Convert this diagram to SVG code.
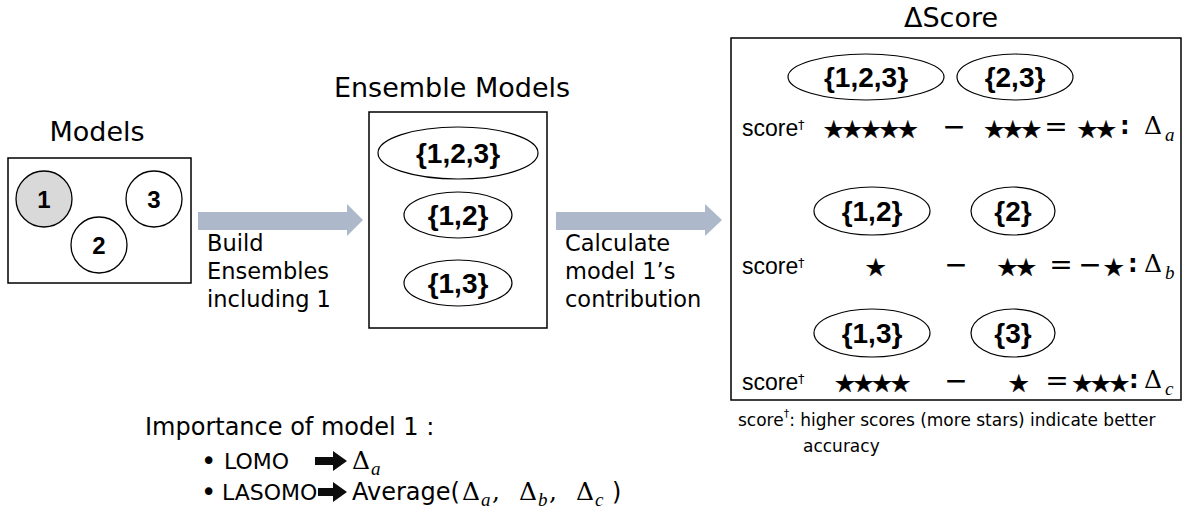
<svg xmlns="http://www.w3.org/2000/svg" width="1186" height="519" viewBox="0 0 1186 519">
<style>
.t{font-family:"DejaVu Sans",sans-serif;fill:#000}
.title{font-family:"DejaVu Sans",sans-serif;font-size:27px;text-anchor:middle;fill:#000}
.body{font-family:"DejaVu Sans",sans-serif;font-size:22.5px;fill:#000}
.lab{font-family:"Liberation Sans",Arial,sans-serif;font-weight:bold;font-size:28px;text-anchor:middle;fill:#000}
.num{font-family:"Liberation Sans",Arial,sans-serif;font-weight:bold;font-size:24px;text-anchor:middle;fill:#000}
.box{fill:#fff;stroke:#000;stroke-width:1.5}
.ell{fill:#fff;stroke:#000;stroke-width:1.2}
.circ{fill:#fff;stroke:#000;stroke-width:1.3}
.sc{font-family:"Liberation Sans",Arial,sans-serif;font-size:23px;fill:#000}
.dg{font-family:"DejaVu Sans",sans-serif;font-size:13px;fill:#000}
.star{font-family:"Noto Sans CJK JP","DejaVu Sans",sans-serif;font-size:20px;letter-spacing:-1.5px;fill:#000;stroke:#000;stroke-width:0.3;text-anchor:middle}
.op{font-family:"DejaVu Sans",sans-serif;font-size:28px;text-anchor:middle;fill:#000}
.col{font-family:"DejaVu Sans",sans-serif;font-weight:bold;font-size:24px;fill:#000}
.m{font-family:"DejaVu Serif",serif;font-size:25px;fill:#000}
.mi{font-family:"Liberation Serif",serif;font-style:italic;font-size:19px;fill:#000}
.bul{font-family:"DejaVu Sans",sans-serif;font-size:26px;fill:#000}
.ga{fill:#adb9ca}
.ba{fill:#0c0c0c}
</style>

<g id="models">
  <text class="title" x="97" y="141">Models</text>
  <rect class="box" x="8" y="158" width="183" height="125"/>
  <g id="model-1">
    <circle cx="44" cy="199" r="28" fill="#d9d9d9" stroke="#000" stroke-width="1.3"/>
    <text class="num" x="44" y="208">1</text>
  </g>
  <g id="model-2">
    <circle class="circ" cx="99" cy="245" r="28"/>
    <text class="num" x="99" y="254">2</text>
  </g>
  <g id="model-3">
    <circle class="circ" cx="154" cy="199" r="28"/>
    <text class="num" x="154" y="208">3</text>
  </g>
</g>

<g id="ensembles">
  <text class="title" x="452" y="97">Ensemble Models</text>
  <rect class="box" x="369" y="112" width="178" height="216"/>
  <g id="ens-123">
    <ellipse class="ell" cx="458" cy="153" rx="80" ry="26"/>
    <text class="lab" x="458" y="163">{1,2,3}</text>
  </g>
  <g id="ens-12">
    <ellipse class="ell" cx="458" cy="215" rx="54" ry="23"/>
    <text class="lab" x="458" y="225">{1,2}</text>
  </g>
  <g id="ens-13">
    <ellipse class="ell" cx="458" cy="283" rx="54" ry="23"/>
    <text class="lab" x="458" y="293">{1,3}</text>
  </g>
</g>

<g id="connectors">
  <polygon class="ga" points="198,212 347,212 347,204 363,220 347,236 347,230 198,230"/>
  <text class="body" x="207"><tspan x="207" y="251">Build</tspan><tspan x="207" y="279">Ensembles</tspan><tspan x="207" y="307">including 1</tspan></text>
  <polygon class="ga" points="556,212 705,212 705,204 722,220 705,236 705,230 556,230"/>
  <text class="body" x="565"><tspan x="565" y="251">Calculate</tspan><tspan x="565" y="279">model 1’s</tspan><tspan x="565" y="307">contribution</tspan></text>
</g>

<g id="delta-score">
  <text class="title" x="951" y="27">ΔScore</text>
  <rect class="box" x="731" y="38" width="450" height="362"/>

  <g id="row-a">
    <ellipse class="ell" cx="866" cy="77" rx="78" ry="23"/>
    <text class="lab" x="866" y="87">{1,2,3}</text>
    <ellipse class="ell" cx="1015" cy="77" rx="58" ry="23"/>
    <text class="lab" x="1015" y="87">{2,3}</text>
    <text class="sc" x="742" y="136">score</text>
    <text class="dg" x="798" y="129">†</text>
    <text class="star" x="870" y="137">★★★★★</text>
    <text class="op" x="954" y="136">−</text>
    <text class="star" x="1012" y="137">★★★</text>
    <text class="op" x="1056" y="136">=</text>
    <text class="star" x="1096" y="137">★★</text>
    <text class="col" x="1120" y="134">:</text>
    <text class="m" x="1144" y="134">Δ</text>
    <text class="mi" x="1165" y="141">a</text>
  </g>

  <g id="row-b">
    <ellipse class="ell" cx="872" cy="211" rx="58" ry="24"/>
    <text class="lab" x="872" y="221">{1,2}</text>
    <ellipse class="ell" cx="1013" cy="211" rx="42" ry="24"/>
    <text class="lab" x="1013" y="221">{2}</text>
    <text class="sc" x="742" y="274">score</text>
    <text class="dg" x="798" y="267">†</text>
    <text class="star" x="875" y="275">★</text>
    <text class="op" x="956" y="274">−</text>
    <text class="star" x="1016" y="275">★★</text>
    <text class="op" x="1061" y="274">=</text>
    <text class="op" x="1090" y="274">−</text>
    <text class="star" x="1113" y="275">★</text>
    <text class="col" x="1128" y="272">:</text>
    <text class="m" x="1144" y="272">Δ</text>
    <text class="mi" x="1165" y="279">b</text>
  </g>

  <g id="row-c">
    <ellipse class="ell" cx="872" cy="333" rx="58" ry="24"/>
    <text class="lab" x="872" y="343">{1,3}</text>
    <ellipse class="ell" cx="1013" cy="333" rx="42" ry="24"/>
    <text class="lab" x="1013" y="343">{3}</text>
    <text class="sc" x="742" y="390">score</text>
    <text class="dg" x="798" y="383">†</text>
    <text class="star" x="872" y="391">★★★★</text>
    <text class="op" x="956" y="390">−</text>
    <text class="star" x="1018" y="391">★</text>
    <text class="op" x="1057" y="390">=</text>
    <text class="star" x="1100" y="391">★★★</text>
    <text class="col" x="1129" y="388">:</text>
    <text class="m" x="1144" y="388">Δ</text>
    <text class="mi" x="1165" y="395">c</text>
  </g>

  <g id="footnote">
    <text class="t" x="738" y="426" font-size="17">score<tspan dy="-9" font-size="11">†</tspan><tspan dy="9">: higher scores (more stars) indicate better</tspan></text>
    <text class="t" x="803" y="452" font-size="17">accuracy</text>
  </g>
</g>

<g id="importance">
  <text class="t" x="145" y="435" font-size="24">Importance of model 1 :</text>
  <text class="bul" x="201" y="470">•</text>
  <text class="t" x="224" y="469" font-size="22">LOMO</text>
  <polygon class="ba" points="315,457 333,457 333,451 347,461 333,471 333,465 315,465"/>
  <text class="m" x="352" y="469" font-size="24">Δ</text>
  <text class="mi" x="371" y="475" font-size="18">a</text>

  <text class="bul" x="201" y="501">•</text>
  <text class="t" x="222" y="500" font-size="22">LASOMO</text>
  <polygon class="ba" points="318,488 333,488 333,482 347,492 333,502 333,496 318,496"/>
  <text class="t" x="352" y="500" font-size="24">Average(</text>
  <text class="m" x="462" y="500" font-size="24">Δ</text>
  <text class="mi" x="481" y="506" font-size="18">a</text>
  <text class="m" x="492" y="500" font-size="24">,</text>
  <text class="m" x="519" y="500" font-size="24">Δ</text>
  <text class="mi" x="538" y="506" font-size="18">b</text>
  <text class="m" x="549" y="500" font-size="24">,</text>
  <text class="m" x="576" y="500" font-size="24">Δ</text>
  <text class="mi" x="595" y="506" font-size="18">c</text>
  <text class="t" x="612" y="500" font-size="24">)</text>
</g>
</svg>
